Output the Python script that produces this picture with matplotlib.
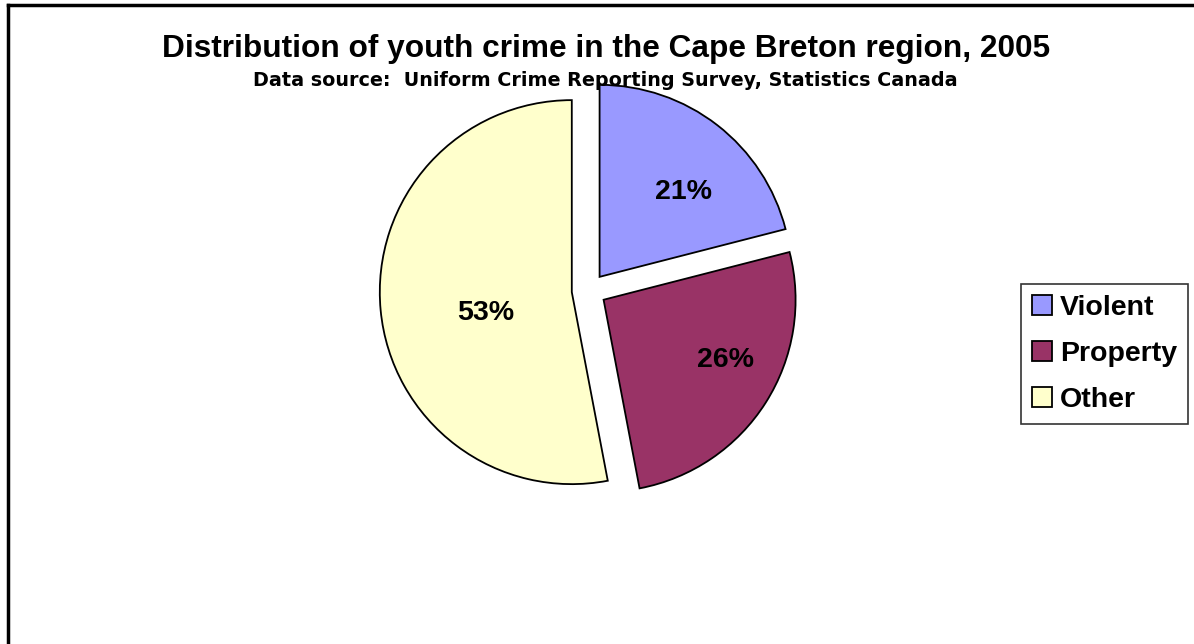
import matplotlib.pyplot as plt
from matplotlib.lines import Line2D
import numpy as np

plt.rcParams['font.family'] = ['Liberation Sans', 'DejaVu Sans']

categories = ['Violent', 'Property', 'Other']
shares = [21, 26, 53]
colors = ['#9999FF', '#993366', '#FFFFCC']
# label placement: fraction of radius from slice vertex, angle nudge in degrees
label_dist = [0.62, 0.71, 0.46]
label_turn = [-7, 6, 8.5]


def main():
    fig = plt.figure(figsize=(11.94, 6.44), dpi=100)

    # pie centre ~ (589, 291) px, radius ~192 px
    r_px = 192
    cx, cy = 589 / 1194, 1 - 290.5 / 644
    w, h = 2 * r_px / 1194, 2 * r_px / 644
    ax = fig.add_axes([cx - w / 2, cy - h / 2, w, h])

    wedges, _ = ax.pie(shares, colors=colors, startangle=90, counterclock=False,
                       explode=[0.09, 0.09, 0.09], radius=1.0,
                       wedgeprops=dict(edgecolor='black', linewidth=1.3))
    ax.set_xlim(-1, 1)
    ax.set_ylim(-1, 1)
    ax.set_aspect('equal')
    ax.axis('off')

    for wdg, val, d, t in zip(wedges, shares, label_dist, label_turn):
        mid = np.deg2rad((wdg.theta1 + wdg.theta2) / 2 + t)
        ox, oy = wdg.center
        ax.text(ox + d * np.cos(mid), oy + d * np.sin(mid), f'{val}%',
                ha='center', va='center', fontsize=20.5, fontweight='bold')

    fig.text(606 / 1194, 1 - 57 / 644,
             'Distribution of youth crime in the Cape Breton region, 2005',
             ha='center', va='baseline', fontsize=22.8, fontweight='bold')
    fig.text(605 / 1194, 1 - 86 / 644,
             'Data source:  Uniform Crime Reporting Survey, Statistics Canada',
             ha='center', va='baseline', fontsize=13.8, fontweight='bold',
             family='DejaVu Sans')

    leg = fig.legend(wedges, categories, loc='center left',
                     bbox_to_anchor=(1021 / 1194, 1 - 354 / 644),
                     prop=dict(size=20.5, weight='bold'), frameon=True,
                     fancybox=False, handlelength=0.7, handleheight=0.7,
                     handletextpad=0.3, labelspacing=0.7, borderpad=0.38,
                     borderaxespad=0)
    leg.get_frame().set_edgecolor('black')
    leg.get_frame().set_linewidth(1.2)

    # chart area border (top and left only visible)
    fig.add_artist(Line2D([8 / 1194, 8 / 1194], [0, 1 - 5 / 644], color='black', lw=2.5))
    fig.add_artist(Line2D([8 / 1194, 1], [1 - 5 / 644, 1 - 5 / 644], color='black', lw=2.5))

    fig.savefig('out.png', dpi=100)


if __name__ == '__main__':
    main()
